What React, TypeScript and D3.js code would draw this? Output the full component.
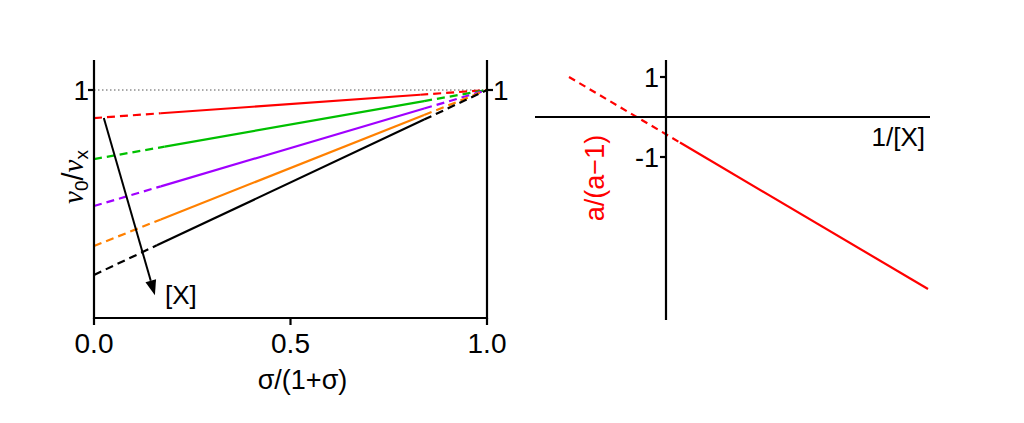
import React from "react";
import * as d3 from "d3";

// Left panel: intercepts at sigma/(1+sigma)=0 of each [X] line, all converge to 1 at 1.0
const seriesNames = ["x1", "x2", "x3", "x4", "x5"];
const intercepts = [0.877, 0.697, 0.491, 0.316, 0.189];
const colors = ["#ff0000", "#00c000", "#a000ff", "#ff8000", "#000000"];
const solidStart = [0.17, 0.18, 0.17, 0.17, 0.16];
const solidEnd = [0.83, 0.84, 0.84, 0.84, 0.84];
const xTicks = [0, 0.5, 1];
const arrowFrom = [0.025, 0.877];
const arrowTo = [0.155, 0.1];

// Right panel: a/(a-1) vs 1/[X]
const rDashedX = [-2.425, 0.35];
const rDashedY = [1.0, -0.639];
const rSolidX = [0.35, 6.55];
const rSolidY = [-0.639, -4.3];
const rYTicks = [1, -1];

export default function App() {
  const W = 1024, H = 423;
  const x = d3.scaleLinear().domain([0, 1]).range([94, 487]);
  const y = d3.scaleLinear().domain([0, 1]).range([318, 90]);
  const yTop = 60;

  const rx = d3.scaleLinear().domain([0, 1]).range([666, 706]);
  const ry = d3.scaleLinear().domain([0, 1]).range([117, 77]);

  const lineGen = d3.line<[number, number]>().x(d => x(d[0])).y(d => y(d[1]));
  const rLine = d3.line<[number, number]>().x(d => rx(d[0])).y(d => ry(d[1]));
  const val = (i: number, t: number) => intercepts[i] + (1 - intercepts[i]) * t;

  const font = "Liberation Sans, Arial, sans-serif";

  const ax1 = x(arrowFrom[0]), ay1 = y(arrowFrom[1]);
  const ax2 = x(arrowTo[0]), ay2 = y(arrowTo[1]);
  const ang = Math.atan2(ay2 - ay1, ax2 - ax1);
  const hl = 15, hw = 5.5;
  const bx = ax2 - hl * Math.cos(ang), by = ay2 - hl * Math.sin(ang);
  const head = `M${ax2},${ay2} L${bx + hw * Math.sin(ang)},${by - hw * Math.cos(ang)} L${bx - hw * Math.sin(ang)},${by + hw * Math.cos(ang)} Z`;

  return (
    <svg width={W} height={H} style={{ position: "absolute", left: 0, top: 0, background: "#fff" }} fontFamily={font}>
      {/* dotted reference at y = 1 */}
      <line x1={x(0)} x2={x(1)} y1={y(1)} y2={y(1)} stroke="#555" strokeWidth={1} strokeDasharray="1.5,2.5" />
      {seriesNames.map((n, i) => (
        <g key={n} stroke={colors[i]} strokeWidth={2.2} fill="none">
          <path d={lineGen([[0, val(i, 0)], [solidStart[i], val(i, solidStart[i])]]) || ""} strokeDasharray="8,5" />
          <path d={lineGen([[solidStart[i], val(i, solidStart[i])], [solidEnd[i], val(i, solidEnd[i])]]) || ""} />
          <path d={lineGen([[solidEnd[i], val(i, solidEnd[i])], [1, 1]]) || ""} strokeDasharray="8,5" />
        </g>
      ))}
      {/* arrow */}
      <line x1={ax1} y1={ay1} x2={bx} y2={by} stroke="#000" strokeWidth={2} />
      <path d={head} fill="#000" />
      <text x={165} y={304} fontSize={26}>[X]</text>

      {/* left axes */}
      <g stroke="#000" strokeWidth={2.2} fill="none">
        <line x1={x(0)} x2={x(0)} y1={yTop} y2={y(0) + 1} />
        <line x1={x(1)} x2={x(1)} y1={yTop} y2={y(0) + 1} />
        <line x1={x(0) - 1} x2={x(1) + 1} y1={y(0)} y2={y(0)} />
        {xTicks.map(t => <line key={t} x1={x(t)} x2={x(t)} y1={y(0)} y2={y(0) + 7} />)}
        <line x1={x(0) - 6} x2={x(0)} y1={y(1)} y2={y(1)} />
        <line x1={x(1)} x2={x(1) + 6} y1={y(1)} y2={y(1)} />
      </g>
      {xTicks.map(t => (
        <text key={t} x={x(t)} y={353} fontSize={28} textAnchor="middle">{d3.format(".1f")(t)}</text>
      ))}
      <text x={x(0) - 5} y={y(1) + 10} fontSize={28} textAnchor="end">1</text>
      <text x={x(1) + 6} y={y(1) + 10} fontSize={28}>1</text>
      <text x={x(0.5) + 12} y={389} fontSize={27} textAnchor="middle">σ/(1+σ)</text>
      <text transform="translate(83,177) rotate(-90)" textAnchor="middle" fontSize={29}>
        <tspan fontFamily="Liberation Serif, serif" fontStyle="italic">v</tspan>
        <tspan fontSize={19} dy={5}>0</tspan>
        <tspan dy={-5}>/</tspan>
        <tspan fontFamily="Liberation Serif, serif" fontStyle="italic">v</tspan>
        <tspan fontSize={19} dy={5}>x</tspan>
      </text>

      {/* right panel */}
      <path d={rLine(rDashedX.map((v, i) => [v, rDashedY[i]] as [number, number])) || ""} stroke="#ff0000" strokeWidth={2.2} fill="none" strokeDasharray="7,5" />
      <path d={rLine(rSolidX.map((v, i) => [v, rSolidY[i]] as [number, number])) || ""} stroke="#ff0000" strokeWidth={2.2} fill="none" />
      <g stroke="#000" strokeWidth={2.2}>
        <line x1={535} x2={930} y1={ry(0)} y2={ry(0)} />
        <line x1={rx(0)} x2={rx(0)} y1={60} y2={320} />
        {rYTicks.map(t => <line key={t} x1={rx(0) - 6} x2={rx(0)} y1={ry(t)} y2={ry(t)} />)}
      </g>
      {rYTicks.map(t => (
        <text key={t} x={rx(0) - 7} y={ry(t) + 10} fontSize={27} textAnchor="end">{t === -1 ? "-1" : "1"}</text>
      ))}
      <text x={925} y={146} fontSize={26} textAnchor="end">1/[X]</text>
      <text transform="translate(604,178) rotate(-90)" textAnchor="middle" fontSize={27} fill="#ff0000">a/(a−1)</text>
    </svg>
  );
}
